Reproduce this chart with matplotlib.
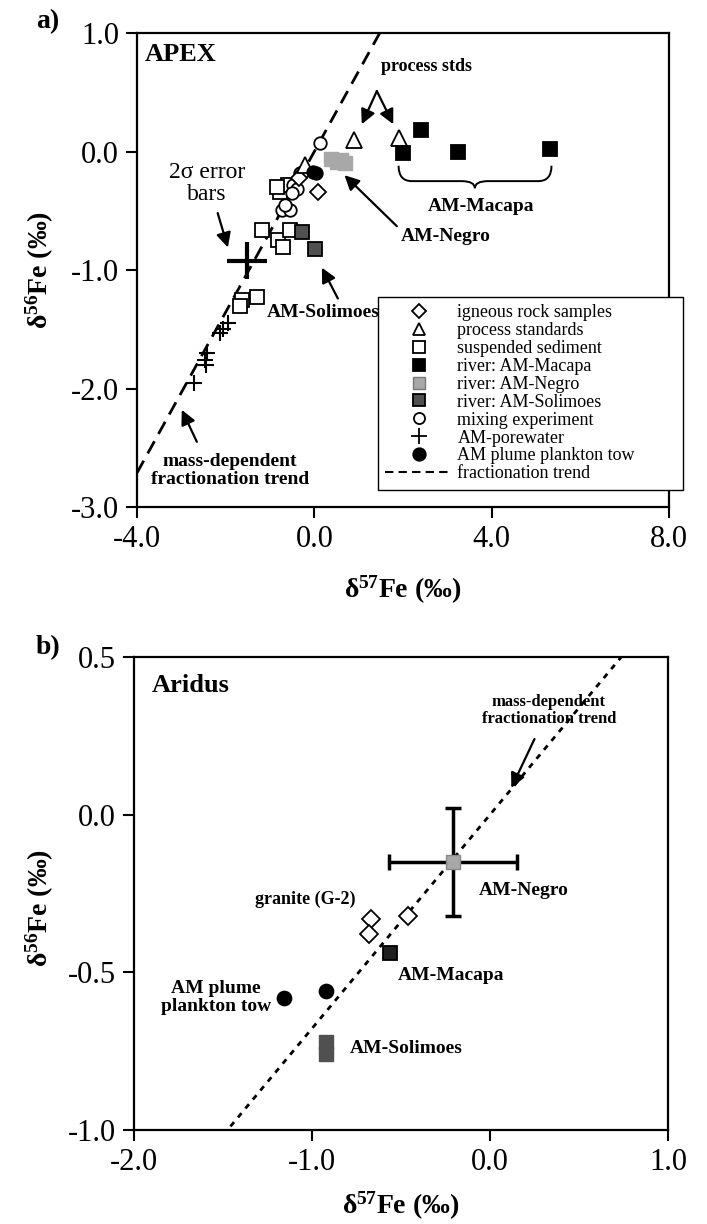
import matplotlib
matplotlib.use('Agg')
import matplotlib.pyplot as plt
from matplotlib.lines import Line2D
from matplotlib.path import Path
from matplotlib.patches import PathPatch
import numpy as np

plt.rcParams['font.family'] = ['Liberation Serif', 'DejaVu Serif']
plt.rcParams['mathtext.fontset'] = 'custom'
plt.rcParams['mathtext.rm'] = 'Liberation Serif'
plt.rcParams['mathtext.it'] = 'Liberation Serif:italic'
plt.rcParams['mathtext.bf'] = 'Liberation Serif:bold'
plt.rcParams['axes.unicode_minus'] = False

# ---------------- Panel a (APEX) data ----------------
igneous_a_x = [-0.26, 0.08, -0.35]
igneous_a_y = [-0.18, -0.34, -0.22]
process_a_x = [0.89, 1.92, -0.22]
process_a_y = [0.10, 0.11, -0.11]
sediment_a_x = [-0.78, -0.60, -0.85, -1.18, -0.82, -0.71, -0.55, -1.64, -1.30, -1.68]
sediment_a_y = [-0.34, -0.28, -0.30, -0.66, -0.75, -0.81, -0.66, -1.25, -1.23, -1.30]
macapa_a_x = [2.40, 1.99, 3.23, 5.32]
macapa_a_y = [0.18, -0.01, 0.00, 0.02]
negro_a_x = [0.38, 0.50, 0.60, 0.70]
negro_a_y = [-0.06, -0.09, -0.07, -0.10]
solimoes_a_x = [-0.28, 0.01]
solimoes_a_y = [-0.68, -0.82]
mixing_a_x = [0.12, -0.33, -0.49, -0.40, -0.51, -0.73, -0.55, -0.67]
mixing_a_y = [0.07, -0.18, -0.28, -0.32, -0.35, -0.49, -0.49, -0.45]
porewater_a_x = [-1.95, -2.05, -2.13, -2.42, -2.47, -2.45, -2.72]
porewater_a_y = [-1.45, -1.50, -1.53, -1.70, -1.76, -1.80, -1.95]
plankton_a_x = [-0.04, 0.03]
plankton_a_y = [-0.17, -0.18]
err_a_x, err_a_y, err_a_xerr, err_a_yerr = -1.52, -0.92, 0.45, 0.16

# ---------------- Panel b (Aridus) data ----------------
igneous_b_x = [-0.67, -0.68, -0.46]
igneous_b_y = [-0.33, -0.38, -0.32]
macapa_b_x = [-0.56]
macapa_b_y = [-0.44]
negro_b_x = [-0.21]
negro_b_y = [-0.15]
negro_b_xerr = [0.36]
negro_b_yerr = [0.17]
solimoes_b_x = [-0.92, -0.92]
solimoes_b_y = [-0.72, -0.76]
plankton_b_x = [-1.16, -0.92]
plankton_b_y = [-0.58, -0.56]

trend_slope = 0.678  # d56Fe / d57Fe mass-dependent

xticks_a = [-4.0, 0.0, 4.0, 8.0]
yticks_a = [1.0, 0.0, -1.0, -2.0, -3.0]
xticks_b = [-2.0, -1.0, 0.0, 1.0]
yticks_b = [0.5, 0.0, -0.5, -1.0]

NEGRO_C = '#a8a8a8'
SOLI_C = '#505050'

W, H = 707, 1224
fig = plt.figure(figsize=(W / 100, H / 100), dpi=100)

def box(l, t, r, b):
    return [l / W, 1 - b / H, (r - l) / W, (b - t) / H]

ax1 = fig.add_axes(box(137, 33, 669, 507))
ax2 = fig.add_axes(box(134, 657, 668, 1130))

for ax in (ax1, ax2):
    for s in ax.spines.values():
        s.set_linewidth(1.6)
    ax.tick_params(direction='out', length=8, width=1.5, labelsize=22, pad=5)
    ax.xaxis.set_major_formatter(matplotlib.ticker.FormatStrFormatter('%.1f'))
    ax.yaxis.set_major_formatter(matplotlib.ticker.FormatStrFormatter('%.1f'))

mk = dict(linestyle='none', markeredgecolor='k', markeredgewidth=1.3)

# ---------------- Panel a ----------------
ax1.set_xlim(-4, 8)
ax1.set_ylim(-3, 1)
ax1.set_xticks(xticks_a)
ax1.set_yticks(yticks_a)
xl = np.array([-4.0, 8.0])
ax1.plot(xl, trend_slope * xl, color='k', lw=2, ls=(0, (5, 3)), zorder=1)

ax1.plot(sediment_a_x, sediment_a_y, marker='s', ms=10, mfc='white', **mk, zorder=3)
ax1.plot(negro_a_x, negro_a_y, marker='s', ms=10, mfc=NEGRO_C, linestyle='none',
         markeredgecolor=NEGRO_C, zorder=3)
ax1.plot(mixing_a_x, mixing_a_y, marker='o', ms=9, mfc='white', **mk, zorder=4)
ax1.plot(igneous_a_x, igneous_a_y, marker='D', ms=8, mfc='white', **mk, zorder=4)
ax1.plot(process_a_x, process_a_y, marker='^', ms=11, mfc='white', **mk, zorder=4)
ax1.plot(macapa_a_x, macapa_a_y, marker='s', ms=10, mfc='black', **mk, zorder=4)
ax1.plot(solimoes_a_x, solimoes_a_y, marker='s', ms=10, mfc=SOLI_C, **mk, zorder=4)
ax1.plot(plankton_a_x, plankton_a_y, marker='o', ms=9, mfc='black', **mk, zorder=5)
ax1.plot(porewater_a_x, porewater_a_y, marker='+', ms=12, mew=1.5, color='k',
         linestyle='none', zorder=4)
ax1.errorbar([err_a_x], [err_a_y], xerr=[err_a_xerr], yerr=[err_a_yerr], fmt='none',
             ecolor='k', elinewidth=3, capsize=0, zorder=5)

arrow = dict(arrowstyle='-|>', color='k', lw=1.6, mutation_scale=22, shrinkA=0, shrinkB=0)
ax1.text(-3.82, 0.82, 'APEX', fontsize=19, fontweight='bold', va='center', ha='left')
ax1.text(1.5, 0.72, 'process stds', fontsize=13, fontweight='bold', va='center', ha='left')
ax1.annotate('', xy=(1.07, 0.23), xytext=(1.41, 0.51), arrowprops=arrow)
ax1.annotate('', xy=(1.78, 0.23), xytext=(1.41, 0.51), arrowprops=arrow)
ax1.text(-2.42, -0.27, '2σ error\nbars', fontsize=17, va='center', ha='center',
         linespacing=1.1)
ax1.annotate('', xy=(-1.95, -0.81), xytext=(-2.18, -0.52), arrowprops=arrow)
ax1.text(1.95, -0.72, 'AM-Negro', fontsize=14, fontweight='bold', va='center', ha='left')
ax1.annotate('', xy=(0.68, -0.20), xytext=(1.86, -0.63), arrowprops=arrow)
ax1.text(0.19, -1.36, 'AM-Solimoes', fontsize=14, fontweight='bold', va='center',
         ha='center', zorder=12)
ax1.annotate('', xy=(0.17, -0.98), xytext=(0.53, -1.24), arrowprops=arrow)
ax1.text(3.75, -0.46, 'AM-Macapa', fontsize=14, fontweight='bold', va='center', ha='center')
ax1.text(-1.9, -2.69, 'mass-dependent\nfractionation trend', fontsize=14,
         fontweight='bold', va='center', ha='center', linespacing=1.1)
ax1.annotate('', xy=(-2.99, -2.18), xytext=(-2.65, -2.45), arrowprops=arrow)

# curly brace under AM-Macapa
x0, x1, xm = 1.9, 5.35, 3.62
yt, ymid, yb = -0.12, -0.25, -0.31
verts = [(x0, yt), (x0, ymid), (x0 + 0.3, ymid), (xm - 0.3, ymid), (xm, ymid), (xm, yb),
         (xm, ymid), (xm + 0.3, ymid), (x1 - 0.3, ymid), (x1, ymid), (x1, yt)]
codes = [Path.MOVETO, Path.CURVE3, Path.CURVE3, Path.LINETO, Path.CURVE3, Path.CURVE3,
         Path.CURVE3, Path.CURVE3, Path.LINETO, Path.CURVE3, Path.CURVE3]
ax1.add_patch(PathPatch(Path(verts, codes), fill=False, lw=1.4, color='k'))

ax1.text(0.5, -0.175, r'$\mathbf{\delta^{57}Fe}$ (‰)', transform=ax1.transAxes,
         fontsize=20, fontweight='bold', ha='center', va='center')
ax1.text(-0.182, 0.5, r'$\mathbf{\delta^{56}Fe}$ (‰)', transform=ax1.transAxes,
         fontsize=20, fontweight='bold', ha='center', va='center', rotation=90)
fig.text(48 / W, 1 - 22 / H, 'a)', fontsize=20, fontweight='bold', ha='center', va='center')

handles = [
    Line2D([], [], marker='D', ms=7, mfc='white', **mk),
    Line2D([], [], marker='^', ms=9, mfc='white', **mk),
    Line2D([], [], marker='s', ms=9, mfc='white', **mk),
    Line2D([], [], marker='s', ms=9, mfc='black', **mk),
    Line2D([], [], marker='s', ms=9, mfc=NEGRO_C, linestyle='none', markeredgecolor='#777777'),
    Line2D([], [], marker='s', ms=9, mfc=SOLI_C, **mk),
    Line2D([], [], marker='o', ms=8, mfc='white', **mk),
    Line2D([], [], marker='+', ms=11, mew=1.3, color='k', linestyle='none'),
    Line2D([], [], marker='o', ms=9, mfc='black', **mk),
    Line2D([], [], color='k', lw=1.5, ls=(0, (4, 2.5))),
]
labels = ['igneous rock samples', 'process standards', 'suspended sediment',
          'river: AM-Macapa', 'river: AM-Negro', 'river: AM-Solimoes',
          'mixing experiment', 'AM-porewater', 'AM plume plankton tow',
          'fractionation trend']
leg = ax1.legend(handles, labels, loc='upper left',
                 bbox_to_anchor=(378 / W, 1 - 497 / H, 305 / W, 200 / H), mode='expand',
                 bbox_transform=fig.transFigure, borderaxespad=0, fontsize=13,
                 fancybox=False, framealpha=1, edgecolor='k', labelspacing=0.05,
                 handlelength=3.7, handletextpad=0.3, borderpad=0.4)
leg.get_frame().set_linewidth(1.0)
leg.set_zorder(10)

# ---------------- Panel b ----------------
ax2.set_xlim(-2, 1)
ax2.set_ylim(-1, 0.5)
ax2.set_xticks(xticks_b)
ax2.set_yticks(yticks_b)
xl2 = np.array([-2.0, 1.0])
ax2.plot(xl2, trend_slope * xl2, color='k', lw=2, ls=(0, (2, 2.2)), zorder=1)

ax2.errorbar(negro_b_x, negro_b_y, xerr=negro_b_xerr, yerr=negro_b_yerr, fmt='none',
             ecolor='k', elinewidth=2.5, capsize=6, capthick=2.5, zorder=3)
ax2.plot(negro_b_x, negro_b_y, marker='s', ms=10, mfc=NEGRO_C, linestyle='none',
         markeredgecolor='#888888', zorder=4)
ax2.plot(igneous_b_x, igneous_b_y, marker='D', ms=9, mfc='white', **mk, zorder=4)
ax2.plot(macapa_b_x, macapa_b_y, marker='s', ms=10, mfc='#202020', **mk, zorder=4)
ax2.plot(solimoes_b_x, solimoes_b_y, marker='s', ms=10, mfc=SOLI_C, linestyle='none',
         markeredgecolor=SOLI_C, zorder=4)
ax2.plot(plankton_b_x, plankton_b_y, marker='o', ms=10, mfc='black', **mk, zorder=4)

ax2.text(-1.9, 0.41, 'Aridus', fontsize=19, fontweight='bold', va='center', ha='left')
ax2.text(-1.04, -0.27, 'granite (G-2)', fontsize=13, fontweight='bold', va='center', ha='center')
ax2.text(-1.54, -0.58, 'AM plume\nplankton tow', fontsize=14, fontweight='bold',
         va='center', ha='center', linespacing=1.1)
ax2.text(-0.52, -0.51, 'AM-Macapa', fontsize=14, fontweight='bold', va='center', ha='left')
ax2.text(-0.065, -0.24, 'AM-Negro', fontsize=14, fontweight='bold', va='center', ha='left')
ax2.text(-0.79, -0.74, 'AM-Solimoes', fontsize=14, fontweight='bold', va='center', ha='left')
ax2.text(0.33, 0.33, 'mass-dependent\nfractionation trend', fontsize=12, fontweight='bold',
         va='center', ha='center', linespacing=1.1)
ax2.annotate('', xy=(0.12, 0.085), xytext=(0.25, 0.24), arrowprops=arrow)

ax2.text(0.5, -0.16, r'$\mathbf{\delta^{57}Fe}$ (‰)', transform=ax2.transAxes,
         fontsize=20, fontweight='bold', ha='center', va='center')
ax2.text(-0.177, 0.47, r'$\mathbf{\delta^{56}Fe}$ (‰)', transform=ax2.transAxes,
         fontsize=20, fontweight='bold', ha='center', va='center', rotation=90)
fig.text(48 / W, 1 - 648 / H, 'b)', fontsize=20, fontweight='bold', ha='center', va='center')

fig.savefig('out.png', dpi=100)
